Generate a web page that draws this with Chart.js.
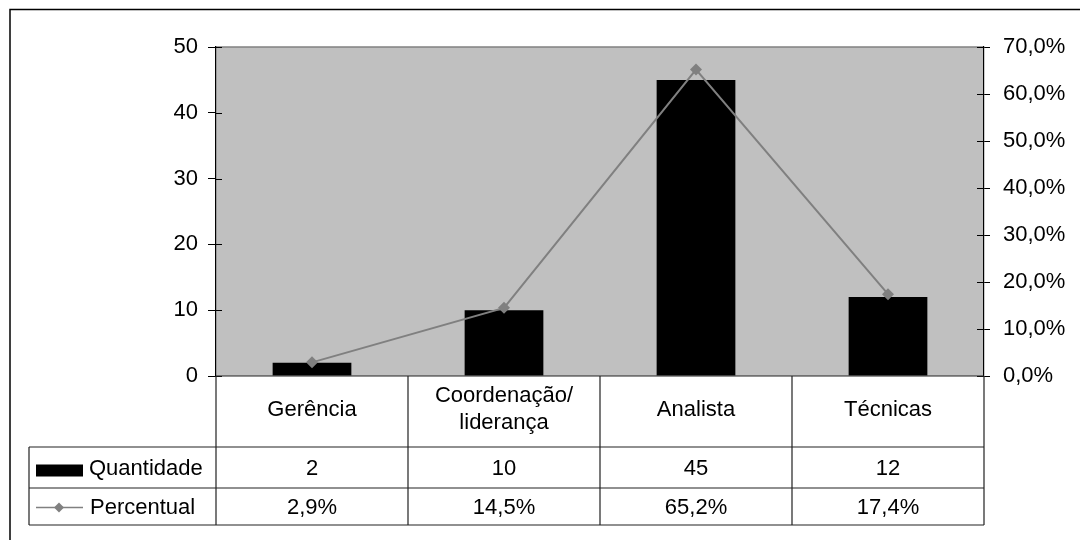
<!DOCTYPE html>
<html lang="pt">
<head>
<meta charset="UTF-8">
<title>Quantidade e percentual por cargo</title>
<script src="https://cdn.jsdelivr.net/npm/chart.js"></script>
<style>
  html, body { margin: 0; padding: 0; background: #fff; }
  #wrap { width: 1080px; height: 540px; }
</style>
</head>
<body>
<div id="wrap"><canvas id="chart" width="1080" height="540"></canvas></div>
<script>
// dados
const categorias = ['Gerência', ['Coordenação/', 'liderança'], 'Analista', 'Técnicas'];
const quantidade = [2, 10, 45, 12];
const percentual = [2.9, 14.5, 65.2, 17.4];
const serieNomes = ['Quantidade', 'Percentual'];
const ticksEsq = [0, 10, 20, 30, 40, 50];
const ticksDir = [0, 10, 20, 30, 40, 50, 60, 70];

const FAMILIA = '"Liberation Sans", Arial, sans-serif';
const TAM = 22;
const FONTE = TAM + 'px ' + FAMILIA;
const fmtPct = v => v.toFixed(1).replace('.', ',') + '%';

// fundo cinza, tabela de dados e moldura
const tabelaPlugin = {
  id: 'tabela',
  beforeDraw(chart) {
    const { ctx, chartArea: a } = chart;
    ctx.save();
    ctx.fillStyle = '#c0c0c0';
    ctx.fillRect(a.left, a.top, a.right - a.left, a.bottom - a.top);
    ctx.strokeStyle = '#808080';
    ctx.lineWidth = 1.5;
    ctx.beginPath();
    ctx.moveTo(a.left, a.top);
    ctx.lineTo(a.right, a.top);
    ctx.stroke();
    ctx.restore();
  },
  afterDraw(chart) {
    const { ctx, chartArea: a } = chart;
    const x = chart.scales.x;
    const y = chart.scales.y;
    const y1 = chart.scales.y1;
    ctx.save();

    // marcas dos eixos para dentro
    ctx.strokeStyle = '#000';
    ctx.lineWidth = 1;
    ctx.beginPath();
    ticksEsq.forEach(t => {
      const py = Math.round(y.getPixelForValue(t)) + 0.5;
      ctx.moveTo(a.left, py); ctx.lineTo(a.left + 6, py);
    });
    ticksDir.forEach(t => {
      const py = Math.round(y1.getPixelForValue(t)) + 0.5;
      ctx.moveTo(a.right - 7, py); ctx.lineTo(a.right, py);
    });
    ctx.stroke();

    // tabela
    const larg = (x.getPixelForValue(1) - x.getPixelForValue(0));
    const bordas = [];
    for (let i = 0; i < categorias.length; i++) bordas.push(x.getPixelForValue(i) - larg / 2);
    bordas.push(x.getPixelForValue(categorias.length - 1) + larg / 2);
    const topo = a.bottom, l1 = topo + 71, l2 = l1 + 41, l3 = l2 + 37;
    const esq = 29;

    ctx.strokeStyle = '#222';
    ctx.lineWidth = 1.2;
    ctx.beginPath();
    bordas.forEach(bx => { ctx.moveTo(bx, topo); ctx.lineTo(bx, l3); });
    [l1, l2, l3].forEach(ly => { ctx.moveTo(esq, ly); ctx.lineTo(bordas[bordas.length - 1], ly); });
    ctx.moveTo(esq, l1); ctx.lineTo(esq, l3);
    ctx.moveTo(a.left, topo); ctx.lineTo(a.right, topo);
    ctx.stroke();

    ctx.fillStyle = '#000';
    ctx.font = FONTE;
    ctx.textAlign = 'center';
    ctx.textBaseline = 'middle';
    categorias.forEach((c, i) => {
      const cx = x.getPixelForValue(i);
      const linhas = Array.isArray(c) ? c : [c];
      const meio = (topo + l1) / 2 - 2;
      linhas.forEach((t, j) => {
        ctx.fillText(t, cx, meio + (j - (linhas.length - 1) / 2) * 27);
      });
      ctx.fillText(String(quantidade[i]), cx, (l1 + l2) / 2 + 1);
      ctx.fillText(fmtPct(percentual[i]), cx, (l2 + l3) / 2 + 1);
    });

    // legenda na tabela
    ctx.textAlign = 'left';
    ctx.fillRect(36, (l1 + l2) / 2 - 3, 47, 12);
    ctx.fillText(serieNomes[0], 89, (l1 + l2) / 2 + 1);
    const ym = (l2 + l3) / 2 + 1;
    ctx.strokeStyle = '#808080';
    ctx.lineWidth = 1.5;
    ctx.beginPath();
    ctx.moveTo(36, ym); ctx.lineTo(83, ym);
    ctx.stroke();
    ctx.fillStyle = '#808080';
    ctx.beginPath();
    ctx.moveTo(59, ym - 5); ctx.lineTo(64, ym); ctx.lineTo(59, ym + 5); ctx.lineTo(54, ym);
    ctx.closePath();
    ctx.fill();
    ctx.fillStyle = '#000';
    ctx.fillText(serieNomes[1], 90, ym);

    // moldura externa
    ctx.strokeStyle = '#000';
    ctx.lineWidth = 1.5;
    ctx.beginPath();
    ctx.moveTo(10, 540); ctx.lineTo(10, 9.5); ctx.lineTo(1080, 9.5);
    ctx.stroke();
    ctx.restore();
  }
};

new Chart(document.getElementById('chart'), {
  type: 'bar',
  data: {
    labels: categorias,
    datasets: [
      {
        type: 'line',
        label: serieNomes[1],
        data: percentual,
        yAxisID: 'y1',
        borderColor: '#808080',
        backgroundColor: '#808080',
        borderWidth: 2,
        pointStyle: 'rectRot',
        pointRadius: 6,
        pointBorderWidth: 0,
        tension: 0,
        order: 0
      },
      {
        label: serieNomes[0],
        data: quantidade,
        yAxisID: 'y',
        backgroundColor: '#000',
        borderWidth: 0,
        barPercentage: 0.41,
        categoryPercentage: 1,
        order: 1
      }
    ]
  },
  options: {
    responsive: false,
    animation: false,
    layout: { padding: { top: 47, bottom: 164, left: 0, right: 0 } },
    plugins: { legend: { display: false }, tooltip: { enabled: false } },
    scales: {
      x: { display: false },
      y: {
        position: 'left',
        min: 0, max: 50,
        afterFit: s => { s.width = 216; },
        afterBuildTicks: s => { s.ticks = ticksEsq.map(v => ({ value: v })); },
        grid: { drawOnChartArea: false, drawTicks: true, tickLength: 8, color: '#000' },
        border: { display: true, color: '#000', width: 1.2 },
        ticks: { color: '#000', font: { family: FAMILIA, size: TAM }, padding: 10 }
      },
      y1: {
        position: 'right',
        min: 0, max: 70,
        afterFit: s => { s.width = 96; },
        afterBuildTicks: s => { s.ticks = ticksDir.map(v => ({ value: v })); },
        grid: { drawOnChartArea: false, drawTicks: true, tickLength: 6, color: '#000' },
        border: { display: true, color: '#000', width: 1.2 },
        ticks: {
          color: '#000',
          font: { family: FAMILIA, size: TAM },
          padding: 13,
          callback: v => fmtPct(v)
        }
      }
    }
  },
  plugins: [tabelaPlugin]
});
</script>
</body>
</html>
